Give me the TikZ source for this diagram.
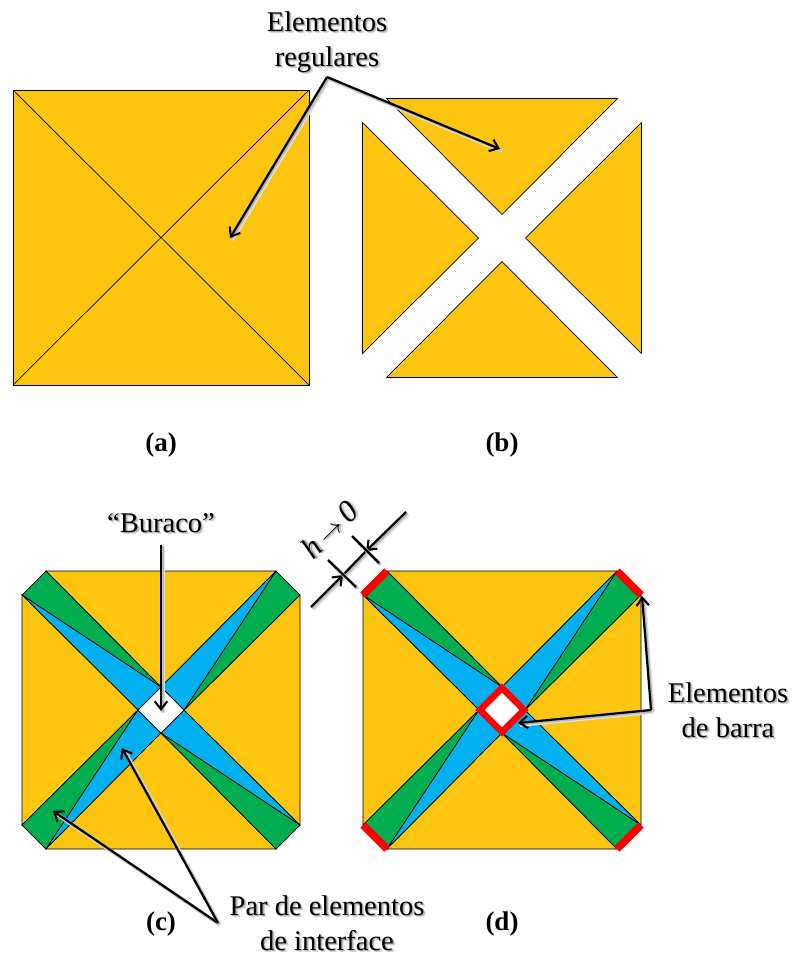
\documentclass[tikz,border=0pt]{standalone}
\usepackage{fontspec}
\setmainfont{Liberation Serif}
\usetikzlibrary{arrows.meta}
\definecolor{regularcolor}{HTML}{FDC50F}
\definecolor{greencolor}{HTML}{00AD4F}
\definecolor{bluecolor}{HTML}{00B0F0}
\newcommand{\shadowed}[1]{\leavevmode\rlap{\kern2.4pt\raisebox{-2.4pt}{\textcolor{black!14}{#1}}}\rlap{\kern1.3pt\raisebox{-1.3pt}{\textcolor{black!32}{#1}}}#1}
\tikzset{
    element/.style={draw=black,line width=0.7pt,line join=miter},
    barelement/.style={draw=red,line width=7.5pt},
    label/.style={font=\fontsize{28.5}{35}\selectfont,align=center,inner sep=0pt},
    caption/.style={font=\fontsize{27}{30}\selectfont\bfseries,inner sep=0pt},
    softshadow/.style={
        preaction={draw=black!12,line width=3.8pt,-,transform canvas={shift={(2pt,-2pt)}}},
        preaction={draw=black!28,line width=2.8pt,-,transform canvas={shift={(1.2pt,-1.2pt)}}}
    },
    pointer/.style={
        softshadow,draw=black,line width=2.2pt,line join=round,-{Straight Barb[length=8pt,width=12.5pt,line width=2.1pt]}
    },
    plainline/.style={softshadow,draw=black,line width=2.2pt}
}
\begin{document}
\begin{tikzpicture}[x=1pt,y=-1pt]
    \useasboundingbox (0,0) rectangle (792,954);
    % (a)
    \filldraw[element,fill=regularcolor] (13,90) rectangle (309,385);
    \draw[element] (13,90)--(309,385) (309,90)--(13,385);
    % (b)
    \foreach\a in{0,90,180,270}{
        \begin{scope}[shift={(502,238)},rotate=\a]
            \filldraw[element,fill=regularcolor] (-115.5,-139.5)--(115.5,-139.5)--(0,-23.5)--cycle;
        \end{scope}
    }
    % (c) and (d)
    \foreach\xo in{161,502}{
        \foreach\a in{0,90,180,270}{
            \begin{scope}[shift={(\xo,710)},rotate=\a]
                \filldraw[element,fill=regularcolor] (-115,-139)--(115,-139)--(0,-23)--cycle;
                \filldraw[element,fill=greencolor] (-139,-115)--(-115,-139)--(0,-23)--cycle;
                \filldraw[element,fill=bluecolor] (-139,-115)--(0,-23)--(-23,0)--cycle;
            \end{scope}
        }
    }
    \filldraw[element,fill=white] (161,687)--(184,710)--(161,733)--(138,710)--cycle;
    % barras
    \foreach\a in{0,90,180,270}{
        \begin{scope}[shift={(502,710)},rotate=\a]
            \draw[barelement] (-139,-115)--(-115,-139);
        \end{scope}
    }
    \filldraw[barelement,line width=6.5pt,fill=white,line join=miter] (502,688)--(524,710)--(502,732)--(480,710)--cycle;
    % textos
    \node[label] (regulares) at (327,43) {\shadowed{Elementos}\\\shadowed{regulares}};
    \node[label] (buraco) at (161,524) {\shadowed{“Buraco”}};
    \node[label] (barra) at (728,711) {\shadowed{Elementos}\\\shadowed{de barra}};
    \node[label] (interface) at (327,924) {\shadowed{Par de elementos}\\\shadowed{de interface}};
    \node[label,rotate=45,font=\fontsize{31}{35}\selectfont] (hzero) at (330,530.5) {\shadowed{\textit{h}}\,\shadowed{$\to$}\,\shadowed{\textit{0}}};
    \node[caption] (capa) at (161,445) {(a)};
    \node[caption] (capb) at (502,445) {(b)};
    \node[caption] (capc) at (161,924) {(c)};
    \node[caption] (capd) at (502,924) {(d)};
    % setas
    \coordinate (regapex) at (327,77);
    \coordinate (regleft) at (230,238);
    \coordinate (regright) at (500,149);
    \coordinate (burtop) at (161,545);
    \coordinate (burtip) at (161,711);
    \coordinate (intapex) at (218,923);
    \coordinate (intgreen) at (53,811);
    \coordinate (intblue) at (122,748);
    \coordinate (barapex) at (651,710);
    \coordinate (bartop) at (642,596);
    \coordinate (barmid) at (518,723);
    \draw[pointer] (regapex)--(regleft);
    \draw[pointer] (regapex)--(regright);
    \draw[pointer] (burtop)--(burtip);
    \draw[pointer] (intapex)--(intgreen);
    \draw[pointer] (intapex)--(intblue);
    \draw[pointer] (barapex)--(bartop);
    \draw[pointer] (barapex)--(barmid);
    % h
    \coordinate (tickaa) at (328,560);
    \coordinate (tickab) at (356,587);
    \coordinate (tickba) at (352,536);
    \coordinate (tickbb) at (379,563);
    \coordinate (dima) at (311,607);
    \coordinate (dimb) at (343,575);
    \coordinate (dimc) at (406,512);
    \coordinate (dimd) at (366,551);
    \draw[plainline] (dimb)--(dimd);
    \draw[pointer] (dima)--(dimb);
    \draw[pointer] (dimc)--(dimd);
    \draw[plainline] (tickaa)--(tickab);
    \draw[plainline] (tickba)--(tickbb);
\end{tikzpicture}
\end{document}
